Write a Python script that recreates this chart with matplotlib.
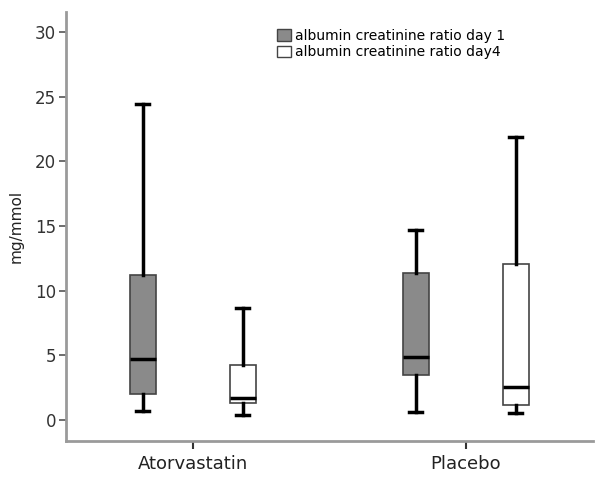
import matplotlib
matplotlib.use("Agg")
import matplotlib.pyplot as plt
from matplotlib.patches import Patch

categories = ["Atorvastatin", "Placebo"]
series_labels = ["albumin creatinine ratio day 1", "albumin creatinine ratio day4"]

# five-number summaries per category: [Atorvastatin, Placebo]
day1_whislo = [0.72, 0.64]
day1_q1 = [2.0, 3.5]
day1_med = [4.7, 4.9]
day1_q3 = [11.2, 11.4]
day1_whishi = [24.4, 14.7]

day4_whislo = [0.39, 0.52]
day4_q1 = [1.29, 1.14]
day4_med = [1.72, 2.53]
day4_q3 = [4.25, 12.1]
day4_whishi = [8.7, 21.9]

yticks = [0, 5, 10, 15, 20, 25, 30]

fig = plt.figure(figsize=(6, 4.78), dpi=100)
ax = fig.add_axes([0.11, 0.0774, 0.878, 0.8976])

def stats(lo, q1, med, q3, hi):
    return [dict(whislo=a, q1=b, med=c, q3=d, whishi=e, fliers=[])
            for a, b, c, d, e in zip(lo, q1, med, q3, hi)]

offset = 0.183
width = 0.095
fills = ["#8a8a8a", "white"]
all_stats = [stats(day1_whislo, day1_q1, day1_med, day1_q3, day1_whishi),
             stats(day4_whislo, day4_q1, day4_med, day4_q3, day4_whishi)]
for k, st in enumerate(all_stats):
    pos = [i + (-offset if k == 0 else offset) for i in range(len(categories))]
    ax.bxp(st, positions=pos, widths=width, patch_artist=True, showfliers=False,
           boxprops=dict(facecolor=fills[k], edgecolor="#444444", linewidth=1.2),
           medianprops=dict(color="black", linewidth=2.5),
           whiskerprops=dict(color="black", linewidth=2.5),
           capprops=dict(color="black", linewidth=2.5),
           capwidths=width * 0.5,
           manage_ticks=False)

ax.set_xlim(-0.464, 1.466)
ax.set_ylim(-1.62, 31.55)
ax.set_xticks(range(len(categories)))
ax.set_xticklabels(categories, fontsize=13, color="#222222")
ax.set_yticks(yticks)
ax.set_yticklabels([str(v) for v in yticks], fontsize=12, color="#333333")
ax.set_ylabel("mg/mmol", fontsize=11, color="#222222", labelpad=8)

for s in ["top", "right"]:
    ax.spines[s].set_visible(False)
for s in ["left", "bottom"]:
    ax.spines[s].set_color("#9a9a9a")
    ax.spines[s].set_linewidth(2)
ax.tick_params(axis="y", length=5, width=1.2, color="#555555", pad=2)
ax.tick_params(axis="x", length=6, width=1.5, color="#333333", pad=4)

handles = [Patch(facecolor=fills[0], edgecolor="#444444", label=series_labels[0]),
           Patch(facecolor=fills[1], edgecolor="#444444", label=series_labels[1])]
fig.legend(handles=handles, loc="upper left",
           bbox_to_anchor=(277 / 600, 1 - 29 / 478),
           bbox_transform=fig.transFigure,
           frameon=False, fontsize=10, handlelength=1.0, handleheight=0.9,
           handletextpad=0.3, labelspacing=0.15, borderaxespad=0.0, borderpad=0.0)

fig.savefig("out.png", dpi=100)
